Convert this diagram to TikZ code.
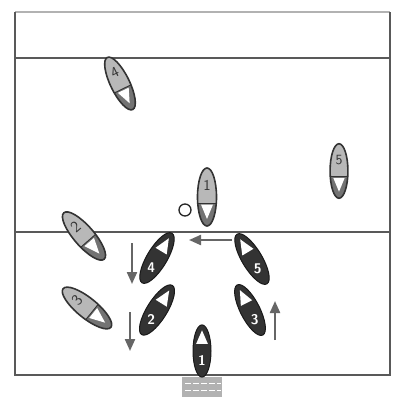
\documentclass[tikz,border=0pt]{standalone}
\usetikzlibrary{arrows.meta}
\tikzset{
  court/.style={draw=black!65, line width=1.1pt},
  move/.style={draw=black!60, line width=2.2pt, -{Triangle[length=12pt,width=10pt]}},
  graykayak/.pic={
    \begin{scope}
      \clip (0,0) ellipse (29 and 9.5);
      \fill[black!28] (-30,-10) rectangle (6,10);
      \fill[black!55] (6,-10) rectangle (30,10);
    \end{scope}
    \fill[white] (22,0) -- (7.5,6) -- (7.5,-6) -- cycle;
    \draw[black!80, line width=0.9pt] (6,-9.2) -- (6,9.2);
    \draw[black!80, line width=1.6pt] (0,0) ellipse (29 and 9.5);
    \node[transform shape, rotate=90, inner sep=0pt, text=black!80,
      font=\sffamily\fontsize{15}{15}\selectfont] (-num) at (-12,0) {#1};
  },
  darkkayak/.pic={
    \draw[black!90, fill=black!80, line width=1pt] (0,0) ellipse (29 and 10);
    \fill[white] (23,0) -- (8,6.5) -- (8,-6.5) -- cycle;
    \node[inner sep=0pt, text=white,
      font=\sffamily\bfseries\fontsize{14}{14}\selectfont] (-num) at (-11,0) {#1};
  }
}
\begin{document}
\begin{tikzpicture}[x=1pt, y=1pt]
\useasboundingbox[fill=white] (0,0) rectangle (398,-412);
% court
\draw[court, draw=black!30] (15,-12) -- (390,-12);
\draw[court] (15,-12) -- (15,-375) -- (390,-375) -- (390,-12);
\draw[court] (15,-58) -- (390,-58);
\draw[court] (15,-232) -- (390,-232);
% goal
\fill[black!30] (182,-377) rectangle (222,-397);
\draw[white, line width=1pt, dash pattern=on 6pt off 2pt] (185,-383) -- (221,-383);
\draw[white, line width=1pt, dash pattern=on 6pt off 2pt] (185,-390) -- (221,-390);
% opponents
\pic[rotate=-64] (g4) at (120,-83.5) {graykayak=4};
\pic[rotate=-90] (g1) at (207,-197) {graykayak=1};
\pic[rotate=-90, scale=0.94] (g5) at (339,-171) {graykayak=5};
\pic[rotate=-49, scale=1.06] (g2) at (84,-236) {graykayak=2};
\pic[rotate=-39, scale=1.06] (g3) at (87,-308) {graykayak=3};
% team
\pic[rotate=59] (d4) at (157,-258) {darkkayak=4};
\pic[rotate=58] (d2) at (157,-310) {darkkayak=2};
\pic[rotate=121] (d5) at (252,-259) {darkkayak=5};
\pic[rotate=117, scale=0.97] (d3) at (250,-310) {darkkayak=3};
\pic[rotate=90, scale=0.9] (d1) at (202,-351) {darkkayak=1};
% ball
\node[circle, draw=black!85, line width=1.3pt, minimum size=12pt, inner sep=0pt] (ball) at (185,-210) {};
% movements
\coordinate (p1) at (232,-240); \coordinate (p2) at (189,-240);
\coordinate (m1) at (132,-243); \coordinate (m2) at (132,-284);
\coordinate (n1) at (130,-312); \coordinate (n2) at (130,-351);
\coordinate (u1) at (275,-340); \coordinate (u2) at (275,-301);
\draw[move] (p1) -- (p2);
\draw[move] (m1) -- (m2);
\draw[move] (n1) -- (n2);
\draw[move] (u1) -- (u2);
\end{tikzpicture}
\end{document}
